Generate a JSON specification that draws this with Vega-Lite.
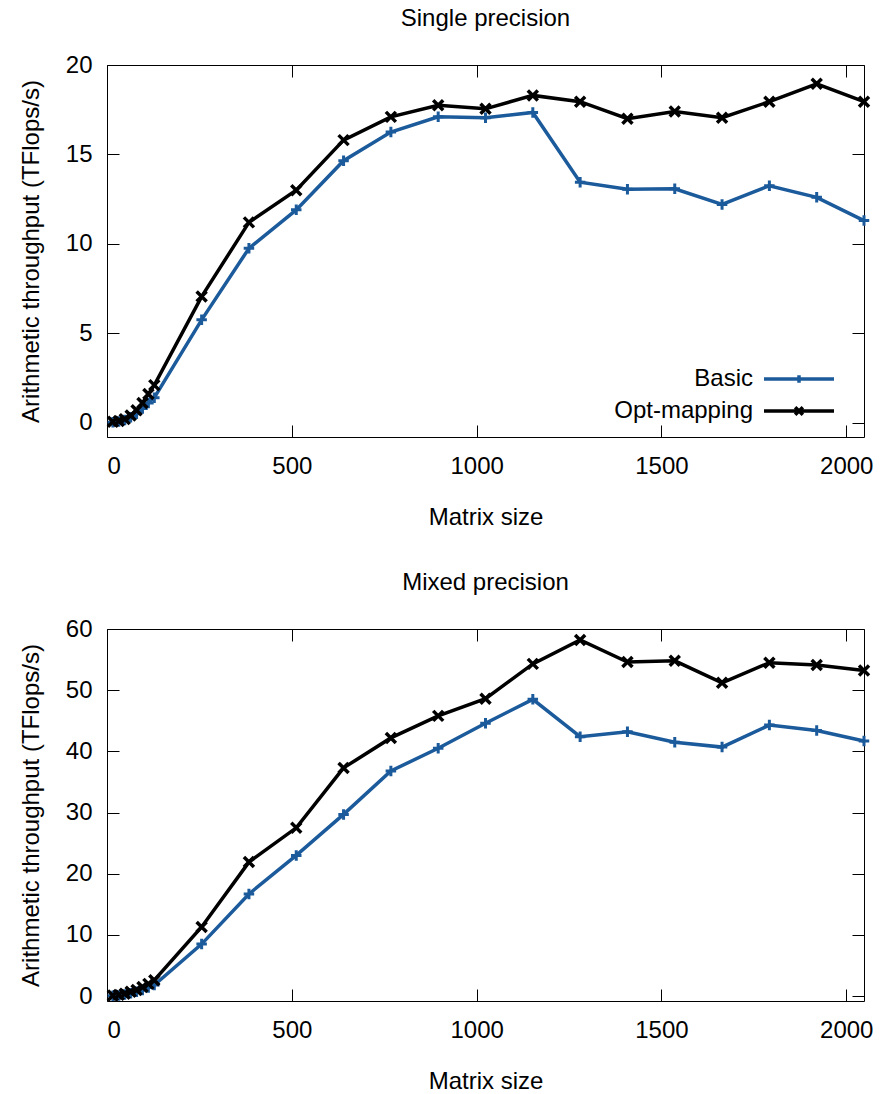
{
  "$schema": "https://vega.github.io/schema/vega-lite/v6.json",
  "padding": {"left": 18, "top": 6, "right": 5, "bottom": 5},
  "background": "white",
  "spacing": 40,
  "config": {
    "font": "Liberation Sans",
    "view": {"stroke": "black", "strokeWidth": 1},
    "axis": {"labelFont": "Liberation Sans", "titleFont": "Liberation Sans", "labelFontSize": 24, "titleFontSize": 24, "titleFontWeight": "normal", "labelColor": "black", "titleColor": "black", "tickColor": "black", "tickWidth": 1, "grid": false, "domain": false},
    "title": {"font": "Liberation Sans", "fontSize": 24, "fontWeight": "normal", "color": "black"},
    "legend": {"orient": "none", "legendX": 680, "legendY": 302, "direction": "vertical", "title": null, "labelFontSize": 24, "labelFont": "Liberation Sans", "labelColor": "black", "labelAlign": "right", "labelOffset": -58, "symbolSize": 196, "symbolStrokeWidth": 3.5, "rowPadding": 8, "padding": 0}
  },
  "datasets": {
    "single": [
      {"size": 16, "series": "Basic", "tflops": 0.03}, {"size": 32, "series": "Basic", "tflops": 0.07}, {"size": 48, "series": "Basic", "tflops": 0.15}, {"size": 64, "series": "Basic", "tflops": 0.3}, {"size": 80, "series": "Basic", "tflops": 0.5}, {"size": 96, "series": "Basic", "tflops": 0.8}, {"size": 112, "series": "Basic", "tflops": 1.1}, {"size": 128, "series": "Basic", "tflops": 1.4}, {"size": 256, "series": "Basic", "tflops": 5.75}, {"size": 384, "series": "Basic", "tflops": 9.75}, {"size": 512, "series": "Basic", "tflops": 11.9}, {"size": 640, "series": "Basic", "tflops": 14.65}, {"size": 768, "series": "Basic", "tflops": 16.25}, {"size": 896, "series": "Basic", "tflops": 17.1}, {"size": 1024, "series": "Basic", "tflops": 17.05}, {"size": 1152, "series": "Basic", "tflops": 17.35}, {"size": 1280, "series": "Basic", "tflops": 13.45}, {"size": 1408, "series": "Basic", "tflops": 13.05}, {"size": 1536, "series": "Basic", "tflops": 13.08}, {"size": 1664, "series": "Basic", "tflops": 12.2}, {"size": 1792, "series": "Basic", "tflops": 13.25}, {"size": 1920, "series": "Basic", "tflops": 12.6}, {"size": 2048, "series": "Basic", "tflops": 11.3},
      {"size": 16, "series": "Opt-mapping", "tflops": 0.05}, {"size": 32, "series": "Opt-mapping", "tflops": 0.1}, {"size": 48, "series": "Opt-mapping", "tflops": 0.2}, {"size": 64, "series": "Opt-mapping", "tflops": 0.4}, {"size": 80, "series": "Opt-mapping", "tflops": 0.7}, {"size": 96, "series": "Opt-mapping", "tflops": 1.1}, {"size": 112, "series": "Opt-mapping", "tflops": 1.6}, {"size": 128, "series": "Opt-mapping", "tflops": 2.1}, {"size": 256, "series": "Opt-mapping", "tflops": 7.05}, {"size": 384, "series": "Opt-mapping", "tflops": 11.2}, {"size": 512, "series": "Opt-mapping", "tflops": 13.0}, {"size": 640, "series": "Opt-mapping", "tflops": 15.8}, {"size": 768, "series": "Opt-mapping", "tflops": 17.1}, {"size": 896, "series": "Opt-mapping", "tflops": 17.75}, {"size": 1024, "series": "Opt-mapping", "tflops": 17.55}, {"size": 1152, "series": "Opt-mapping", "tflops": 18.3}, {"size": 1280, "series": "Opt-mapping", "tflops": 17.95}, {"size": 1408, "series": "Opt-mapping", "tflops": 17.0}, {"size": 1536, "series": "Opt-mapping", "tflops": 17.4}, {"size": 1664, "series": "Opt-mapping", "tflops": 17.05}, {"size": 1792, "series": "Opt-mapping", "tflops": 17.95}, {"size": 1920, "series": "Opt-mapping", "tflops": 18.95}, {"size": 2048, "series": "Opt-mapping", "tflops": 17.95}
    ],
    "mixed": [
      {"size": 16, "series": "Basic", "tflops": 0.05}, {"size": 32, "series": "Basic", "tflops": 0.1}, {"size": 48, "series": "Basic", "tflops": 0.25}, {"size": 64, "series": "Basic", "tflops": 0.45}, {"size": 80, "series": "Basic", "tflops": 0.7}, {"size": 96, "series": "Basic", "tflops": 1.0}, {"size": 112, "series": "Basic", "tflops": 1.4}, {"size": 128, "series": "Basic", "tflops": 1.8}, {"size": 256, "series": "Basic", "tflops": 8.5}, {"size": 384, "series": "Basic", "tflops": 16.7}, {"size": 512, "series": "Basic", "tflops": 23.0}, {"size": 640, "series": "Basic", "tflops": 29.7}, {"size": 768, "series": "Basic", "tflops": 36.8}, {"size": 896, "series": "Basic", "tflops": 40.5}, {"size": 1024, "series": "Basic", "tflops": 44.6}, {"size": 1152, "series": "Basic", "tflops": 48.5}, {"size": 1280, "series": "Basic", "tflops": 42.4}, {"size": 1408, "series": "Basic", "tflops": 43.2}, {"size": 1536, "series": "Basic", "tflops": 41.5}, {"size": 1664, "series": "Basic", "tflops": 40.7}, {"size": 1792, "series": "Basic", "tflops": 44.3}, {"size": 1920, "series": "Basic", "tflops": 43.4}, {"size": 2048, "series": "Basic", "tflops": 41.7},
      {"size": 16, "series": "Opt-mapping", "tflops": 0.1}, {"size": 32, "series": "Opt-mapping", "tflops": 0.2}, {"size": 48, "series": "Opt-mapping", "tflops": 0.4}, {"size": 64, "series": "Opt-mapping", "tflops": 0.7}, {"size": 80, "series": "Opt-mapping", "tflops": 1.0}, {"size": 96, "series": "Opt-mapping", "tflops": 1.5}, {"size": 112, "series": "Opt-mapping", "tflops": 2.0}, {"size": 128, "series": "Opt-mapping", "tflops": 2.6}, {"size": 256, "series": "Opt-mapping", "tflops": 11.3}, {"size": 384, "series": "Opt-mapping", "tflops": 21.9}, {"size": 512, "series": "Opt-mapping", "tflops": 27.5}, {"size": 640, "series": "Opt-mapping", "tflops": 37.3}, {"size": 768, "series": "Opt-mapping", "tflops": 42.2}, {"size": 896, "series": "Opt-mapping", "tflops": 45.8}, {"size": 1024, "series": "Opt-mapping", "tflops": 48.6}, {"size": 1152, "series": "Opt-mapping", "tflops": 54.3}, {"size": 1280, "series": "Opt-mapping", "tflops": 58.2}, {"size": 1408, "series": "Opt-mapping", "tflops": 54.6}, {"size": 1536, "series": "Opt-mapping", "tflops": 54.8}, {"size": 1664, "series": "Opt-mapping", "tflops": 51.2}, {"size": 1792, "series": "Opt-mapping", "tflops": 54.5}, {"size": 1920, "series": "Opt-mapping", "tflops": 54.1}, {"size": 2048, "series": "Opt-mapping", "tflops": 53.2}
    ]
  },
  "vconcat": [
    {
      "title": {"text": "Single precision", "offset": 22},
      "width": 757, "height": 372,
      "data": {"name": "single"},
      "layer": [
        {
          "mark": {"type": "line", "strokeWidth": 3.5},
          "encoding": {
            "x": {"field": "size", "type": "quantitative", "scale": {"domain": [0, 2048], "nice": false, "zero": false}, "axis": {"orient": "bottom", "title": "Matrix size", "format": "d", "values": [0, 500, 1000, 1500, 2000], "tickSize": -12, "labelPadding": 29, "titlePadding": 27}},
            "y": {"field": "tflops", "type": "quantitative", "scale": {"domain": [-0.8, 20], "nice": false, "zero": false}, "axis": {"orient": "left", "title": "Arithmetic throughput (TFlops/s)", "values": [0, 5, 10, 15, 20], "tickSize": -12, "labelPadding": 27, "titlePadding": 22}},
            "color": {"field": "series", "type": "nominal", "scale": {"domain": ["Basic", "Opt-mapping"], "range": ["#1b5a9b", "#000000"]},
              "legend": {"encode": {"symbols": {"update": {"shape": {"signal": "datum.value === 'Basic' ? 'M-5,0H5M0,-0.55V0.55' : 'M-5,0H5M-0.55,-0.55L0.55,0.55M-0.55,0.55L0.55,-0.55'"}, "strokeWidth": {"value": 3.5}}}}}}
          }
        },
        {
          "transform": [{"filter": "datum.series === 'Basic'"}],
          "mark": {"type": "point", "filled": false, "strokeWidth": 3, "size": 110, "opacity": 1, "color": "#1b5a9b", "shape": "M-1,0H1M0,-1V1"},
          "encoding": {
            "x": {"field": "size", "type": "quantitative", "axis": {"orient": "top", "labels": false, "title": null, "values": [0, 500, 1000, 1500, 2000], "tickSize": -12}},
            "y": {"field": "tflops", "type": "quantitative", "axis": {"orient": "right", "labels": false, "title": null, "values": [0, 5, 10, 15, 20], "tickSize": -12}}
          }
        },
        {
          "transform": [{"filter": "datum.series === 'Opt-mapping'"}],
          "mark": {"type": "point", "filled": false, "strokeWidth": 3.5, "size": 100, "opacity": 1, "color": "#000000", "shape": "M-1,-1L1,1M-1,1L1,-1"},
          "encoding": {
            "x": {"field": "size", "type": "quantitative", "axis": null},
            "y": {"field": "tflops", "type": "quantitative", "axis": null}
          }
        }
      ],
      "resolve": {"axis": {"x": "independent", "y": "independent"}}
    },
    {
      "title": {"text": "Mixed precision", "offset": 22},
      "width": 757, "height": 372,
      "data": {"name": "mixed"},
      "layer": [
        {
          "mark": {"type": "line", "strokeWidth": 3.5},
          "encoding": {
            "x": {"field": "size", "type": "quantitative", "scale": {"domain": [0, 2048], "nice": false, "zero": false}, "axis": {"orient": "bottom", "title": "Matrix size", "format": "d", "values": [0, 500, 1000, 1500, 2000], "tickSize": -12, "labelPadding": 29, "titlePadding": 27}},
            "y": {"field": "tflops", "type": "quantitative", "scale": {"domain": [-0.8, 60], "nice": false, "zero": false}, "axis": {"orient": "left", "title": "Arithmetic throughput (TFlops/s)", "values": [0, 10, 20, 30, 40, 50, 60], "tickSize": -12, "labelPadding": 27, "titlePadding": 22}},
            "color": {"field": "series", "type": "nominal", "scale": {"domain": ["Basic", "Opt-mapping"], "range": ["#1b5a9b", "#000000"]},
              "legend": {"encode": {"symbols": {"update": {"shape": {"signal": "datum.value === 'Basic' ? 'M-5,0H5M0,-0.55V0.55' : 'M-5,0H5M-0.55,-0.55L0.55,0.55M-0.55,0.55L0.55,-0.55'"}, "strokeWidth": {"value": 3.5}}}}}}
          }
        },
        {
          "transform": [{"filter": "datum.series === 'Basic'"}],
          "mark": {"type": "point", "filled": false, "strokeWidth": 3, "size": 110, "opacity": 1, "color": "#1b5a9b", "shape": "M-1,0H1M0,-1V1"},
          "encoding": {
            "x": {"field": "size", "type": "quantitative", "axis": {"orient": "top", "labels": false, "title": null, "values": [0, 500, 1000, 1500, 2000], "tickSize": -12}},
            "y": {"field": "tflops", "type": "quantitative", "axis": {"orient": "right", "labels": false, "title": null, "values": [0, 10, 20, 30, 40, 50, 60], "tickSize": -12}}
          }
        },
        {
          "transform": [{"filter": "datum.series === 'Opt-mapping'"}],
          "mark": {"type": "point", "filled": false, "strokeWidth": 3.5, "size": 100, "opacity": 1, "color": "#000000", "shape": "M-1,-1L1,1M-1,1L1,-1"},
          "encoding": {
            "x": {"field": "size", "type": "quantitative", "axis": null},
            "y": {"field": "tflops", "type": "quantitative", "axis": null}
          }
        }
      ],
      "resolve": {"axis": {"x": "independent", "y": "independent"}}
    }
  ]
}
